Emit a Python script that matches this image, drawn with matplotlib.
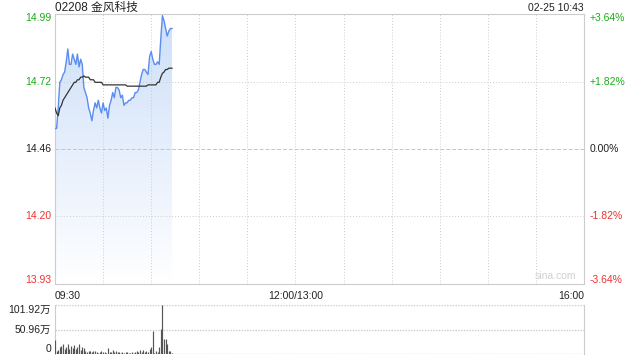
import numpy as np
import matplotlib
matplotlib.use('Agg')
import matplotlib.pyplot as plt
from matplotlib.patches import Polygon
from matplotlib.colors import LinearSegmentedColormap

plt.rcParams['font.family'] = ['Liberation Sans', 'Noto Sans CJK SC']

prev_close = 14.46
price_ticks = [13.93, 14.20, 14.46, 14.72, 14.99]
pct_labels = ['-3.64%', '-1.82%', '0.00%', '+1.82%', '+3.64%']
time_labels = ['09:30', '12:00/13:00', '16:00']

price = [14.54, 14.54, 14.62, 14.72, 14.73, 14.75, 14.76, 14.80, 14.85, 14.79,
         14.79, 14.83, 14.81, 14.79, 14.83, 14.78, 14.81, 14.79, 14.70, 14.68,
         14.66, 14.62, 14.60, 14.57, 14.61, 14.64, 14.62, 14.65, 14.62, 14.60,
         14.64, 14.61, 14.62, 14.58, 14.63, 14.65, 14.68, 14.66, 14.70, 14.70,
         14.69, 14.66, 14.67, 14.63, 14.64, 14.64, 14.65, 14.65, 14.66, 14.66,
         14.68, 14.68, 14.69, 14.72, 14.75, 14.77, 14.77, 14.76, 14.75, 14.82,
         14.84, 14.81, 14.79, 14.79, 14.80, 14.79, 14.89, 14.98, 14.96, 14.93,
         14.90, 14.92, 14.93, 14.93]
avg = [14.62, 14.60, 14.59, 14.62, 14.63, 14.65, 14.66, 14.67, 14.68, 14.69,
       14.70, 14.71, 14.72, 14.72, 14.73, 14.73, 14.74, 14.74, 14.745, 14.74,
       14.74, 14.74, 14.73, 14.73, 14.73, 14.72, 14.72, 14.72, 14.72, 14.72,
       14.71, 14.71, 14.71, 14.71, 14.71, 14.71, 14.71, 14.71, 14.71, 14.71,
       14.71, 14.71, 14.71, 14.71, 14.71, 14.705, 14.705, 14.705, 14.705, 14.705,
       14.705, 14.705, 14.705, 14.705, 14.705, 14.705, 14.705, 14.705, 14.71, 14.71,
       14.71, 14.71, 14.71, 14.71, 14.72, 14.72, 14.74, 14.755, 14.76, 14.77,
       14.77, 14.775, 14.775, 14.775]
volume = [29, 7, 8, 14, 17, 20, 10, 15, 21, 10,
          16, 12, 18, 10, 14, 20, 8, 15, 13, 7,
          4, 6, 7, 5, 6, 7, 5, 3, 5, 6,
          4, 5, 3, 13, 5, 4, 8, 5, 6, 4,
          5, 3, 5, 2, 4, 5, 3, 2, 4, 3,
          5, 7, 4, 9, 5, 8, 4, 7, 4, 10,
          14, 48, 3, 7, 5, 14, 52, 101.92, 31, 32,
          21, 6, 6, 2]

minutes = np.arange(len(price))
total = 330
ylo = prev_close * (1 - 0.0364)
yhi = prev_close * (1 + 0.0364)

green = '#1aab1a'
red = '#f03030'
colors = [red, red, '#222222', green, green]

L, R = 55, 584
fig = plt.figure(figsize=(6.4, 3.6), dpi=100)
ax = fig.add_axes([L / 640, 1 - 284 / 360, (R - L) / 640, 270 / 360])
ax.set_xlim(0, total)
ax.set_ylim(ylo, yhi)

# gradient fill under price
cmap = LinearSegmentedColormap.from_list('g', ['#ffffff', '#cddff9'])
grad = np.linspace(0, 1, 256).reshape(-1, 1)
im = ax.imshow(grad, cmap=cmap, aspect='auto', origin='lower',
               extent=[0, minutes[-1], ylo, yhi], zorder=1)
verts = [(minutes[0], ylo)] + list(zip(minutes, price)) + [(minutes[-1], ylo)]
poly = Polygon(verts, closed=True, facecolor='none', edgecolor='none')
ax.add_patch(poly)
im.set_clip_path(poly)

ax.plot(minutes, price, color='#5b8def', lw=1, zorder=3)
ax.plot(minutes, avg, color='#333333', lw=0.9, zorder=4)

for x in range(30, total, 30):
    ax.axvline(x, color='#cccccc', lw=0.7, ls=(0, (1, 2)), zorder=2)
for p in price_ticks[1:4]:
    if p == prev_close:
        ax.axhline(p, color='#c4c4c4', lw=0.7, ls=(0, (4, 2)), zorder=2)
    else:
        ax.axhline(p, color='#cccccc', lw=0.7, ls=(0, (1, 2)), zorder=2)

for s in ax.spines.values():
    s.set_color('#cccccc')
ax.set_xticks([])
ax.set_yticks([])

fs = 7.5
for i, (p, lab) in enumerate(zip(price_ticks, pct_labels)):
    va = 'bottom' if i == 0 else ('top' if i == 4 else 'center')
    yy = p
    ax.text(-0.0075, yy, f'{p:.2f}', transform=ax.get_yaxis_transform(),
            ha='right', va=va, fontsize=fs, color=colors[i])
    ax.text(1.011, yy, lab, transform=ax.get_yaxis_transform(),
            ha='left', va=va, fontsize=fs, color=colors[i])

fig.text(L / 640, 1 - 8 / 360, '02208 金风科技', ha='left',
         va='center', fontsize=8.5, color='#222222')
fig.text(R / 640, 1 - 8 / 360, '02-25 10:43', ha='right',
         va='center', fontsize=7.5, color='#222222')
ax.text(0.985, 0.012, 'sina.com', transform=ax.transAxes, ha='right',
        va='bottom', fontsize=7.5, color='#d0d0d0')

for x, lab, ha in zip([0, 150, total], time_labels, ['left', 'center', 'right']):
    ax.text(x, -0.025, lab, transform=ax.get_xaxis_transform(), ha=ha,
            va='top', fontsize=fs, color='#222222')

# volume panel
vax = fig.add_axes([L / 640, 1 - 354 / 360, (R - L) / 640, 49 / 360])
vax.set_xlim(0, total)
vmax = max(volume)
vax.set_ylim(0, vmax)
vax.vlines(minutes, 0, volume, lw=0.85, color='#555555', zorder=3)
for yv in [vmax, vmax / 2, 0]:
    vax.axhline(yv, color='#cccccc', lw=1.0, ls=(0, (1, 1)))
for k in ['top', 'bottom']:
    vax.spines[k].set_visible(False)
for k in ['left', 'right']:
    vax.spines[k].set_color('#cccccc')
vax.set_xticks([])
vax.set_yticks([])
vlabels = [f'{vmax:.2f}万', f'{vmax / 2:.2f}万', '0']
for yv, lab, va in zip([vmax, vmax / 2, 0], vlabels, ['top', 'center', 'bottom']):
    vax.text(-0.0075, yv, lab, transform=vax.get_yaxis_transform(), ha='right',
             va=va, fontsize=fs, color='#222222')

fig.savefig('out.png', dpi=100)
